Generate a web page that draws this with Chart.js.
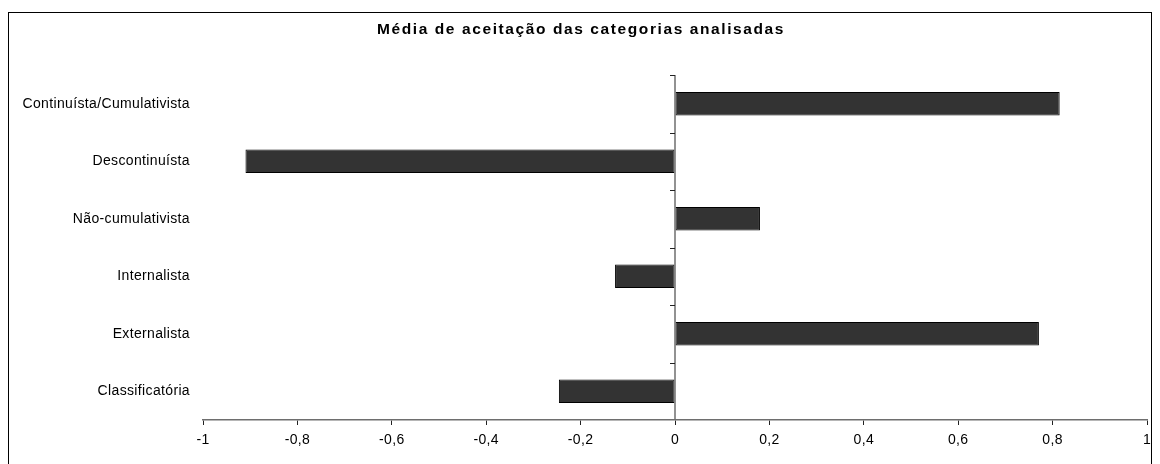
<!DOCTYPE html>
<html lang="pt">
<head>
  <meta charset="UTF-8">
  <title>Média de aceitação das categorias analisadas</title>
  <script src="https://cdn.jsdelivr.net/npm/chart.js"></script>
  <style>
    body { margin: 0; background: #fff; font-family: Arial, "Liberation Sans", sans-serif; }
    #wrap { position: relative; width: 1160px; height: 464px; }
    #frame { position: absolute; left: 8px; top: 12px; width: 1144px; height: 460px; border: 1px solid #000; box-sizing: border-box; pointer-events: none; }
    #titulo { position: absolute; left: 0; top: 20px; width: 1162px; text-align: center; font: bold 15.5px Arial, "Liberation Sans", sans-serif; letter-spacing: 1.6px; color: #000; }
  </style>
</head>
<body>
<div id="wrap">
  <canvas id="grafico" width="1160" height="464"></canvas>
  <div id="frame"></div>
  <div id="titulo">Média de aceitação das categorias analisadas</div>
</div>

<script>
  const categorias = ['Continuísta/Cumulativista', 'Descontinuísta', 'Não-cumulativista', 'Internalista', 'Externalista', 'Classificatória'];
  const medias = [0.815, -0.91, 0.18, -0.127, 0.771, -0.246];
  const xMin = -1, xMax = 1, xPasso = 0.2;

  // texto um pouco mais largo, como no original
  const espacamento = {
    id: 'espacamento',
    beforeDraw(chart) { chart.ctx.letterSpacing = '0.35px'; }
  };

  // eixo vertical no zero, com marcas entre as categorias
  const eixoZero = {
    id: 'eixoZero',
    afterDatasetsDraw(chart) {
      const { ctx, chartArea, scales } = chart;
      const x0 = scales.x.getPixelForValue(0);
      ctx.save();
      ctx.strokeStyle = '#6e6e6e';
      ctx.lineWidth = 1.5;
      ctx.beginPath();
      ctx.moveTo(x0, chartArea.top);
      ctx.lineTo(x0, chartArea.bottom);
      ctx.stroke();
      ctx.strokeStyle = '#222';
      ctx.lineWidth = 1;
      const meia = (scales.y.getPixelForValue(1) - scales.y.getPixelForValue(0)) / 2;
      for (let i = 0; i < categorias.length; i++) {
        const y = Math.round(scales.y.getPixelForValue(i) - meia) + 0.5;
        ctx.beginPath();
        ctx.moveTo(x0 - 5, y);
        ctx.lineTo(x0, y);
        ctx.stroke();
      }
      ctx.restore();
    }
  };

  new Chart(document.getElementById('grafico'), {
    type: 'bar',
    data: {
      labels: categorias,
      datasets: [{
        data: medias,
        backgroundColor: '#333333',
        borderColor: '#000000',
        borderWidth: 1,
        borderSkipped: false,
        barPercentage: 1,
        categoryPercentage: 0.41
      }]
    },
    options: {
      indexAxis: 'y',
      responsive: false,
      animation: false,
      layout: { padding: { left: 0, right: 13, top: 75, bottom: 0 } },
      plugins: {
        legend: { display: false },
        tooltip: { enabled: false },
        title: { display: false }
      },
      scales: {
        x: {
          min: xMin,
          max: xMax,
          afterFit: s => { s.height = 44; },
          ticks: {
            stepSize: xPasso,
            color: '#000',
            padding: 7,
            maxRotation: 0,
            font: { family: 'Arial, "Liberation Sans"', size: 14 },
            callback: v => {
              const r = Math.round(v * 10) / 10;
              return Number.isInteger(r) ? String(r) : r.toFixed(1).replace('.', ',');
            }
          },
          grid: { drawOnChartArea: false, drawTicks: true, tickLength: 5, color: '#222' },
          border: { display: true, color: '#6e6e6e', width: 1.5 }
        },
        y: {
          afterFit: s => { s.width = 203; },
          ticks: {
            color: '#000',
            padding: 13,
            font: { family: 'Arial, "Liberation Sans"', size: 14 }
          },
          grid: { display: false, drawTicks: false },
          border: { display: false }
        }
      }
    },
    plugins: [espacamento, eixoZero]
  });
</script>
</body>
</html>
